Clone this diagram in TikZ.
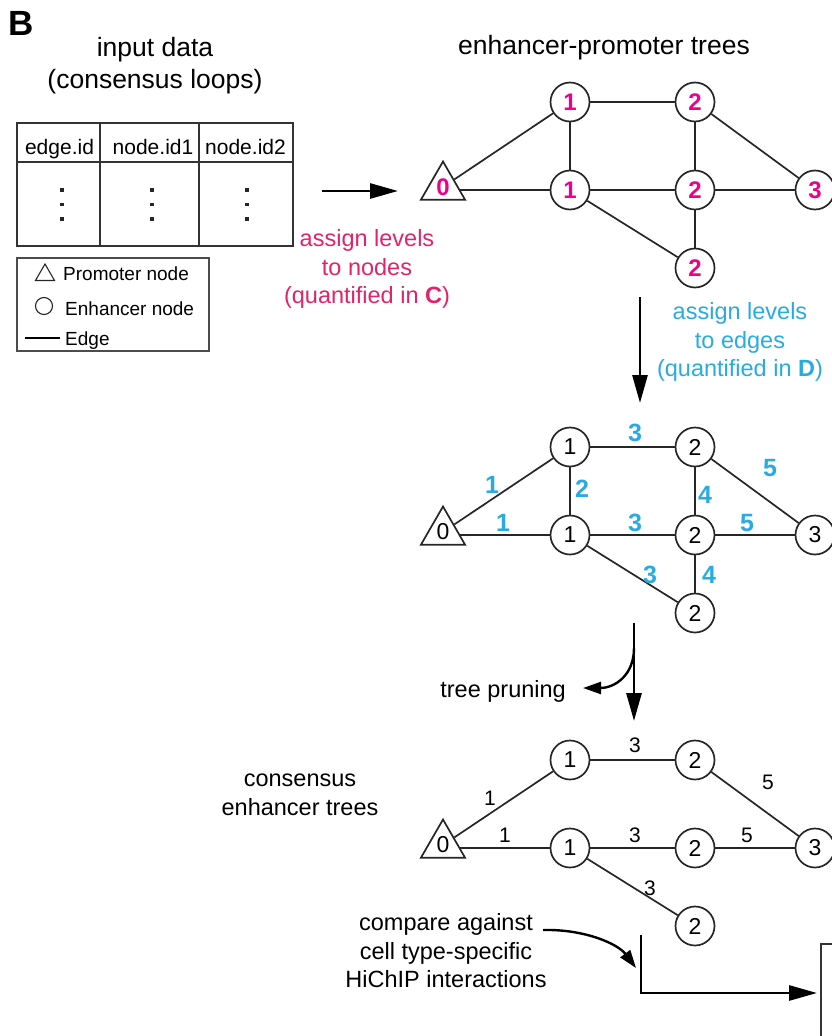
\documentclass[tikz,border=0pt]{standalone}
\usepackage{fontspec}
\setmainfont{Liberation Sans}
\usetikzlibrary{shapes.geometric,arrows.meta}

\definecolor{levelpink}{RGB}{236,0,140}
\definecolor{textpink}{RGB}{226,35,105}
\definecolor{edgeblue}{RGB}{41,171,226}

\begin{document}
\begin{tikzpicture}[x=1pt,y=-1pt,
    enh/.style={circle,draw=black!85,line width=1.7pt,minimum size=39pt,inner sep=0pt,font=\fontsize{23}{23}\selectfont},
    prom/.style={regular polygon,regular polygon sides=3,draw=black!85,line width=1.7pt,minimum size=51pt,inner sep=0pt,font=\fontsize{23}{23}\selectfont},
    lvl/.style={text=levelpink,font=\fontsize{24}{24}\selectfont\bfseries},
    link/.style={draw=black!85,line width=1.7pt},
    elab/.style={text=edgeblue,font=\fontsize{25}{25}\selectfont\bfseries,inner sep=0pt},
    plab/.style={font=\fontsize{21}{21}\selectfont,inner sep=0pt},
    head/.style={font=\fontsize{26.5}{32}\selectfont,align=center,inner sep=0pt},
    body/.style={font=\fontsize{23.5}{28.5}\selectfont,align=center,inner sep=0pt},
    cell/.style={font=\fontsize{21}{21}\selectfont,inner sep=0pt,anchor=base},
    legtxt/.style={font=\fontsize{19}{19}\selectfont,inner sep=0pt,anchor=base west},
    tabline/.style={draw=black!80,line width=2.2pt},
    flow/.style={line width=2.8pt,-{Triangle[length=28pt,width=15pt]}},
    bendarrow/.style={line width=2.4pt,-{Triangle[length=18pt,width=12pt]}}
]
    \useasboundingbox (0,0) rectangle (832,1036);

    % Panel letter and titles
    \node[font=\fontsize{35}{35}\selectfont\bfseries,inner sep=0pt] (panel) at (21,23) {B};
    \node[head] (inhead) at (155,66) {input data\\(consensus loops)};
    \node[head] (treehead) at (604,48) {enhancer-promoter trees};

    % Input table
    \draw[tabline] (17,123) rectangle (293,246);
    \draw[tabline] (17,162) -- (293,162);
    \draw[tabline] (100,123) -- (100,246);
    \draw[tabline] (199,123) -- (199,246);
    \node[cell] (coledge) at (59.5,154) {edge.id};
    \node[cell] (colnode1) at (153,154) {node.id1};
    \node[cell] (colnode2) at (245.5,154) {node.id2};
    \foreach \x in {62,152,247}
        \foreach \y in {190,204.5,219}
            \fill[black!85] (\x-1.7,\y-1.7) rectangle (\x+1.7,\y+1.7);

    % Legend
    \draw[draw=black!70,line width=1.2pt] (17,258) rectangle (209,351);
    \node[prom,minimum size=22pt,line width=1.1pt] (legprom) at (45,275) {};
    \node[enh,minimum size=17pt,line width=1.1pt] (legenh) at (44,306) {};
    \coordinate (legA) at (25,338);
    \coordinate (legB) at (60,338);
    \draw[line width=1.1pt] (legA) -- (legB);
    \node[legtxt] (legpt) at (63,280) {Promoter node};
    \node[legtxt] (leget) at (65,315) {Enhancer node};
    \node[legtxt] (legel) at (65,345) {Edge};

    % Table to first tree
    \coordinate (in0) at (322,191);
    \coordinate (in1) at (398,191);
    \draw[flow] (in0) -- (in1);
    \node[body,text=textpink] (nodelvl) at (367,269) {assign levels\\to nodes\\(quantified in \textbf{C})};

    % Tree 1: levels on nodes
    \node[prom,lvl] (g1p) at (443,187) {0};
    \node[enh,lvl] (g1a) at (570,102) {1};
    \node[enh,lvl] (g1b) at (695,102) {2};
    \node[enh,lvl] (g1c) at (570,190) {1};
    \node[enh,lvl] (g1d) at (695,190) {2};
    \node[enh,lvl] (g1e) at (815,190) {3};
    \node[enh,lvl] (g1f) at (695,268) {2};
    \draw[link] (g1p) -- (g1a);
    \draw[link] (g1c) -- (g1c -| g1p.east);
    \draw[link] (g1a) -- (g1b);
    \draw[link] (g1a) -- (g1c);
    \draw[link] (g1b) -- (g1d);
    \draw[link] (g1b) -- (g1e);
    \draw[link] (g1c) -- (g1d);
    \draw[link] (g1d) -- (g1e);
    \draw[link] (g1c) -- (g1f);
    \draw[link] (g1d) -- (g1f);

    % Tree 1 to tree 2
    \coordinate (s1) at (640,297);
    \coordinate (s2) at (640,403);
    \draw[flow] (s1) -- (s2);
    \node[body,text=edgeblue] (edgelvl) at (740,342) {assign levels\\to edges\\(quantified in \textbf{D})};

    % Tree 2: levels on edges
    \node[prom] (g2p) at (443,532) {0};
    \node[enh] (g2a) at (570,447) {1};
    \node[enh] (g2b) at (695,447) {2};
    \node[enh] (g2c) at (570,535) {1};
    \node[enh] (g2d) at (695,535) {2};
    \node[enh] (g2e) at (815,535) {3};
    \node[enh] (g2f) at (695,613) {2};
    \draw[link] (g2p) -- (g2a);
    \draw[link] (g2c) -- (g2c -| g2p.east);
    \draw[link] (g2a) -- (g2b);
    \draw[link] (g2a) -- (g2c);
    \draw[link] (g2b) -- (g2d);
    \draw[link] (g2b) -- (g2e);
    \draw[link] (g2c) -- (g2d);
    \draw[link] (g2d) -- (g2e);
    \draw[link] (g2c) -- (g2f);
    \draw[link] (g2d) -- (g2f);
    \node[elab] (e2pa) at (492,485) {1};
    \node[elab] (e2pc) at (503,523) {1};
    \node[elab] (e2ab) at (635,433) {3};
    \node[elab] (e2ac) at (582,489) {2};
    \node[elab] (e2bd) at (705,495) {4};
    \node[elab] (e2be) at (770,468) {5};
    \node[elab] (e2cd) at (635,523) {3};
    \node[elab] (e2de) at (747,523) {5};
    \node[elab] (e2cf) at (650,575) {3};
    \node[elab] (e2df) at (709,575) {4};

    % Tree 2 to tree 3, with pruning
    \coordinate (s3) at (634,623);
    \coordinate (s4) at (634,721);
    \coordinate (pr0) at (634,648);
    \coordinate (pr1) at (583,688);
    \draw[flow] (s3) -- (s4);
    \draw[bendarrow] (pr0) .. controls (634,676) and (614,688) .. (pr1);
    \node[body,anchor=east] (prune) at (566,691) {tree pruning};

    % Tree 3: consensus enhancer trees
    \node[body] (conshead) at (300,795) {consensus\\enhancer trees};
    \node[prom] (g3p) at (443,845) {0};
    \node[enh] (g3a) at (570,760) {1};
    \node[enh] (g3b) at (695,760) {2};
    \node[enh] (g3c) at (570,848) {1};
    \node[enh] (g3d) at (695,848) {2};
    \node[enh] (g3e) at (815,848) {3};
    \node[enh] (g3f) at (695,926) {2};
    \draw[link] (g3p) -- (g3a);
    \draw[link] (g3c) -- (g3c -| g3p.east);
    \draw[link] (g3a) -- (g3b);
    \draw[link] (g3b) -- (g3e);
    \draw[link] (g3c) -- (g3d);
    \draw[link] (g3d) -- (g3e);
    \draw[link] (g3c) -- (g3f);
    \node[plab] (e3pa) at (490,798) {1};
    \node[plab] (e3pc) at (505,835) {1};
    \node[plab] (e3ab) at (635,745) {3};
    \node[plab] (e3be) at (768,782) {5};
    \node[plab] (e3cd) at (635,835) {3};
    \node[plab] (e3de) at (747,835) {5};
    \node[plab] (e3cf) at (650,888) {3};

    % Comparison with HiChIP
    \node[body] (compare) at (446,951) {compare against\\cell type-specific\\HiChIP interactions};
    \coordinate (cmp0) at (543,930);
    \coordinate (cmp1) at (636,968);
    \draw[bendarrow] (cmp0) .. controls (585,929) and (618,944) .. (cmp1);
    \coordinate (l0) at (641,935);
    \coordinate (l1) at (641,993);
    \coordinate (l2) at (817,993);
    \draw[flow] (l0) -- (l1) -- (l2);
    \draw[draw=black!80,line width=2.6pt] (821,944) rectangle (880,1080);
\end{tikzpicture}
\end{document}
